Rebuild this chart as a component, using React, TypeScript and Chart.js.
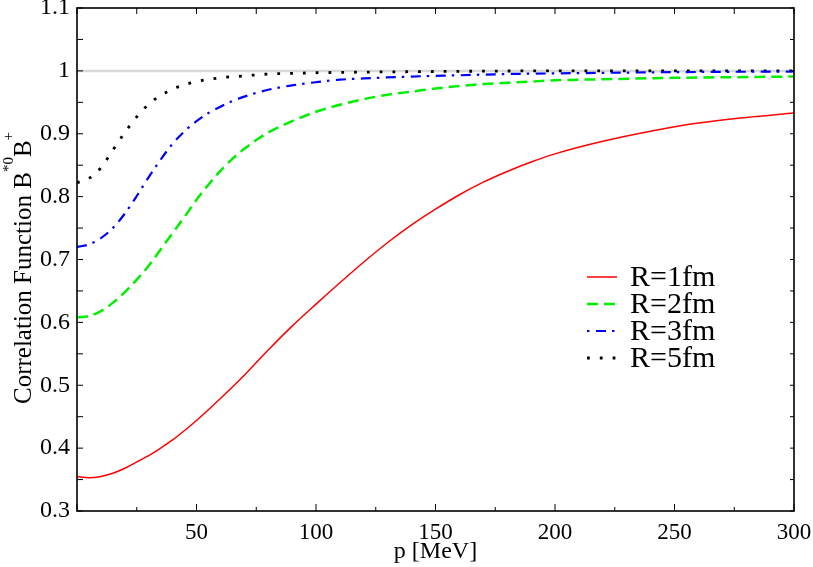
import { useEffect, useRef } from "react"
import { Chart, registerables } from "chart.js"

Chart.register(...registerables)

const FONT = "'Liberation Serif', 'Times New Roman', serif"

// momentum grid (MeV) and correlation values
const pR1 = [0, 5, 10, 15, 20, 25, 30, 35, 40, 45, 50, 60, 70, 80, 90, 100, 110, 120, 130, 140, 150, 160, 170, 180, 190, 200, 220, 240, 260, 280, 300]
const cR1 = [0.355, 0.353, 0.355, 0.360, 0.368, 0.378, 0.388, 0.400, 0.413, 0.428, 0.444, 0.479, 0.516, 0.556, 0.594, 0.629, 0.663, 0.696, 0.727, 0.755, 0.780, 0.803, 0.823, 0.840, 0.855, 0.868, 0.888, 0.904, 0.917, 0.926, 0.933]

const pR2 = [0, 5, 10, 15, 20, 25, 30, 35, 40, 45, 50, 55, 60, 65, 70, 75, 80, 90, 100, 110, 120, 130, 140, 150, 160, 170, 180, 190, 200, 225, 250, 275, 300]
const cR2 = [0.608, 0.610, 0.618, 0.631, 0.648, 0.668, 0.690, 0.716, 0.742, 0.768, 0.795, 0.819, 0.841, 0.860, 0.876, 0.890, 0.902, 0.920, 0.935, 0.946, 0.955, 0.962, 0.967, 0.972, 0.976, 0.979, 0.981, 0.983, 0.985, 0.987, 0.989, 0.990, 0.991]

const pR3 = [0, 5, 10, 15, 20, 25, 30, 35, 40, 45, 50, 55, 60, 65, 70, 75, 80, 90, 100, 110, 120, 140, 160, 180, 200, 250, 300]
const cR3 = [0.720, 0.724, 0.734, 0.750, 0.773, 0.801, 0.831, 0.859, 0.884, 0.904, 0.920, 0.933, 0.943, 0.952, 0.959, 0.965, 0.970, 0.977, 0.982, 0.986, 0.988, 0.991, 0.993, 0.995, 0.996, 0.998, 0.999]

const pR5 = [0, 5, 10, 15, 20, 25, 30, 35, 40, 45, 50, 60, 70, 80, 90, 100, 120, 150, 200, 300]
const cR5 = [0.822, 0.829, 0.846, 0.874, 0.902, 0.927, 0.947, 0.961, 0.971, 0.978, 0.983, 0.989, 0.992, 0.995, 0.996, 0.997, 0.998, 0.999, 1.0, 1.0]

const seriesLabels = ["R=1fm", "R=2fm", "R=3fm", "R=5fm"]
const refLevel = 1

const xMajor = [0, 50, 100, 150, 200, 250, 300]
const xMinor = [25, 75, 125, 175, 225, 275]
const yTicks = [0.3, 0.35, 0.4, 0.45, 0.5, 0.55, 0.6, 0.65, 0.7, 0.75, 0.8, 0.85, 0.9, 0.95, 1.0, 1.05, 1.1]

const toPoints = (xs: number[], ys: number[]) => xs.map((x, i) => ({ x, y: ys[i] }))

// box with inward ticks on all four sides
const framePlugin = {
  id: "frame",
  afterDraw(chart: any) {
    const { ctx, chartArea: a, scales } = chart
    const xs = scales.x
    const ys = scales.y
    ctx.save()
    ctx.strokeStyle = "#000"
    ctx.lineWidth = 1.6
    ctx.setLineDash([])
    ctx.strokeRect(a.left, a.top, a.right - a.left, a.bottom - a.top)
    ctx.lineWidth = 1
    ctx.beginPath()
    const xt = (v: number, len: number) => {
      const px = xs.getPixelForValue(v)
      ctx.moveTo(px, a.bottom)
      ctx.lineTo(px, a.bottom - len)
      ctx.moveTo(px, a.top)
      ctx.lineTo(px, a.top + 6)
    }
    xMajor.forEach((v) => xt(v, 7))
    xMinor.forEach((v) => xt(v, 4))
    yTicks.forEach((v) => {
      const py = ys.getPixelForValue(v)
      ctx.moveTo(a.left, py)
      ctx.lineTo(a.left + 6, py)
      ctx.moveTo(a.right, py)
      ctx.lineTo(a.right - 4, py)
    })
    ctx.stroke()
    ctx.restore()
  },
}

// rotated y title with superscripts
const yTitlePlugin = {
  id: "yTitle",
  afterDraw(chart: any) {
    const ctx = chart.ctx
    ctx.save()
    ctx.translate(31, 404)
    ctx.rotate(-Math.PI / 2)
    ctx.fillStyle = "#000"
    ctx.textBaseline = "alphabetic"
    const parts = [
      { t: "Correlation Function ", size: 25, rise: 0 },
      { t: "B", size: 25, rise: 0 },
      { t: "*0", size: 15, rise: 18 },
      { t: "B", size: 25, rise: 0 },
      { t: "+", size: 15, rise: 18 },
    ]
    let x = 0
    for (const p of parts) {
      ctx.font = `${p.size}px ${FONT}`
      ctx.fillText(p.t, x, -p.rise)
      x += ctx.measureText(p.t).width
    }
    ctx.restore()
  },
}

// legend inside the plot
const legendPlugin = {
  id: "innerLegend",
  afterDraw(chart: any) {
    const ctx = chart.ctx
    const rows = [277, 304, 331, 358]
    ctx.save()
    seriesLabels.forEach((label, i) => {
      const ds = chart.data.datasets[i]
      ctx.strokeStyle = ds.borderColor
      ctx.lineWidth = ds.borderWidth
      ctx.setLineDash(ds.borderDash || [])
      ctx.lineDashOffset = ds.legendOffset || 0
      ctx.beginPath()
      ctx.moveTo(587, rows[i])
      ctx.lineTo(617, rows[i])
      ctx.stroke()
      ctx.setLineDash([])
      ctx.fillStyle = "#000"
      ctx.font = `30px ${FONT}`
      ctx.textBaseline = "middle"
      ctx.fillText(label, 630, rows[i] + 1)
    })
    ctx.restore()
  },
}

export default function App() {
  const canvasRef = useRef<HTMLCanvasElement>(null)

  useEffect(() => {
    document.body.style.margin = "0"
    if (!canvasRef.current) return
    const line = (data: any[], color: string, width: number, dash: number[], extra: any = {}) => ({
      data,
      borderColor: color,
      borderWidth: width,
      borderDash: dash,
      borderCapStyle: "butt",
      pointRadius: 0,
      cubicInterpolationMode: "monotone",
      fill: false,
      ...extra,
    })
    const chart = new Chart(canvasRef.current, {
      type: "line",
      data: {
        datasets: [
          line(toPoints(pR1, cR1), "#ff0000", 1.5, [], { label: seriesLabels[0] }),
          line(toPoints(pR2, cR2), "#00ee00", 2.5, [11, 6], { label: seriesLabels[1] }),
          line(toPoints(pR3, cR3), "#0000ff", 2.2, [10, 6, 2.5, 6.5], { label: seriesLabels[2], legendOffset: 16 }),
          line(toPoints(pR5, cR5), "#000000", 2.8, [2.8, 10], { label: seriesLabels[3] }),
          line([{ x: 0, y: refLevel }, { x: 300, y: refLevel }], "#d8d8d8", 2.5, [], { label: "ref" }),
        ] as any,
      },
      options: {
        animation: false,
        responsive: true,
        maintainAspectRatio: false,
        layout: { padding: { top: 8, right: 19, left: 0, bottom: 0 } },
        plugins: { legend: { display: false }, tooltip: { enabled: false } },
        scales: {
          x: {
            type: "linear",
            min: 0,
            max: 300,
            grid: { display: false, drawTicks: false },
            border: { display: false },
            ticks: {
              stepSize: 50,
              padding: 8,
              color: "#000",
              font: { family: FONT, size: 23 },
              maxRotation: 0,
              callback: (v: any) => (v === 0 ? "" : String(v)),
            },
            title: {
              display: true,
              text: "p [MeV]",
              color: "#000",
              font: { family: FONT, size: 24 },
              padding: { top: 0, bottom: 1 },
            },
            afterFit: (s: any) => {
              s.height = 56
              s.paddingLeft = 0
              s.paddingRight = 0
            },
          },
          y: {
            min: 0.3,
            max: 1.1,
            grid: { display: false, drawTicks: false },
            border: { display: false },
            ticks: {
              stepSize: 0.1,
              padding: 7,
              color: "#000",
              font: { family: FONT, size: 24 },
              callback: (v: any) => String(Math.round(Number(v) * 10) / 10),
            },
            afterFit: (s: any) => {
              s.width = 77
              s.paddingTop = 0
              s.paddingBottom = 0
            },
          },
        },
      } as any,
      plugins: [framePlugin, yTitlePlugin, legendPlugin],
    })
    return () => chart.destroy()
  }, [])

  return (
    <div style={{ position: "relative", width: 813, height: 567 }}>
      <canvas ref={canvasRef}></canvas>
    </div>
  )
}
